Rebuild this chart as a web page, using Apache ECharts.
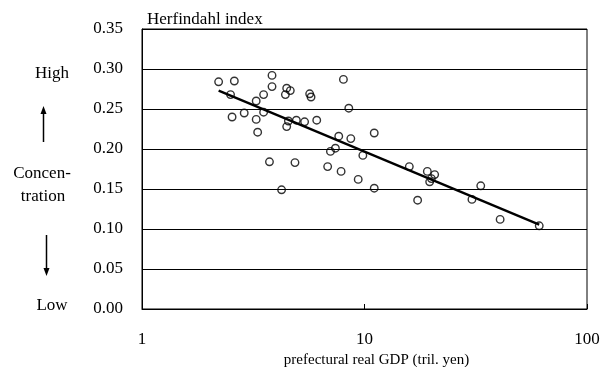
<!DOCTYPE html>
<html>
<head>
<meta charset="utf-8">
<script src="https://cdn.jsdelivr.net/npm/echarts@6/dist/echarts.min.js"></script>
<style>
  html, body { margin: 0; padding: 0; background: #fff; }
  #chart { width: 615px; height: 367px; }
</style>
</head>
<body>
<div id="chart"></div>
<script>
// prefectural real GDP (tril. yen)
var gdp = [2.21, 2.60, 3.84, 3.84, 4.47, 4.64, 4.41, 5.67, 5.75, 8.04,
  2.50, 3.52, 3.26, 8.50, 2.88, 2.54, 3.52, 3.26, 3.31, 4.55,
  4.47, 4.94, 5.38, 6.10, 7.66, 8.68, 7.40, 7.03, 9.83, 3.74,
  4.87, 6.83, 7.85, 9.37, 4.24, 11.06, 11.06, 15.9, 19.16, 20.67,
  19.98, 19.63, 17.33, 33.3, 30.4, 40.7, 61.0];
// Herfindahl index
var hhi = [0.284, 0.285, 0.292, 0.278, 0.276, 0.273, 0.268, 0.269, 0.265, 0.287,
  0.268, 0.268, 0.260, 0.251, 0.245, 0.240, 0.246, 0.237, 0.221, 0.235,
  0.228, 0.236, 0.234, 0.236, 0.216, 0.213, 0.201, 0.197, 0.192, 0.184,
  0.183, 0.178, 0.172, 0.162, 0.149, 0.220, 0.151, 0.178, 0.172, 0.168,
  0.163, 0.159, 0.136, 0.154, 0.137, 0.112, 0.104];
// trend line end points
var trendX = [2.21, 61.0];
var trendY = [0.273, 0.1055];

var serif = 'Liberation Serif';
var points = gdp.map(function (g, i) { return [g, hhi[i]]; });
var trend = trendX.map(function (t, i) { return [t, trendY[i]]; });

var chart = echarts.init(document.getElementById('chart'));
var option = {
  animation: false,
  backgroundColor: '#fff',
  grid: {
    left: 142,
    right: 28,
    top: 29,
    bottom: 58,
    outerBoundsMode: 'none',
    containLabel: false,
    show: true,
    borderColor: '#000',
    borderWidth: 1
  },
  xAxis: {
    type: 'log',
    logBase: 10,
    min: 1,
    max: 100,
    name: 'prefectural real GDP (tril. yen)',
    nameLocation: 'middle',
    nameGap: 42,
    nameTextStyle: {
      fontFamily: serif,
      fontSize: 15,
      color: '#000',
      padding: [0, 0, 0, 24]
    },
    axisLine: { show: true, lineStyle: { color: '#000', width: 1 } },
    axisTick: { show: true, inside: true, length: 5, lineStyle: { color: '#000' } },
    minorTick: { show: false },
    splitLine: { show: false },
    axisLabel: {
      margin: 22,
      fontFamily: serif,
      fontSize: 17,
      color: '#000'
    }
  },
  yAxis: {
    type: 'value',
    min: 0,
    max: 0.35,
    interval: 0.05,
    axisLine: { show: true, lineStyle: { color: '#000', width: 1 } },
    axisTick: { show: false },
    splitLine: { show: true, lineStyle: { color: '#000', width: 1 } },
    axisLabel: {
      margin: 19,
      fontFamily: serif,
      fontSize: 17,
      color: '#000',
      formatter: function (v) { return v.toFixed(2); }
    }
  },
  graphic: [
    { type: 'text', left: 147, top: 11, style: { text: 'Herfindahl index', font: '17px "Liberation Serif"', fill: '#000' } },
    { type: 'text', x: 52, y: 74, style: { text: 'High', font: '17px "Liberation Serif"', fill: '#000', align: 'center', verticalAlign: 'middle' } },
    { type: 'text', x: 42, y: 174, style: { text: 'Concen-', font: '17px "Liberation Serif"', fill: '#000', align: 'center', verticalAlign: 'middle' } },
    { type: 'text', x: 43, y: 197, style: { text: 'tration', font: '17px "Liberation Serif"', fill: '#000', align: 'center', verticalAlign: 'middle' } },
    { type: 'text', x: 52, y: 306, style: { text: 'Low', font: '17px "Liberation Serif"', fill: '#000', align: 'center', verticalAlign: 'middle' } },
    { type: 'line', shape: { x1: 43.5, y1: 112, x2: 43.5, y2: 142 }, style: { stroke: '#000', lineWidth: 1.5 } },
    { type: 'polygon', shape: { points: [[43.5, 106], [40.5, 114], [46.5, 114]] }, style: { fill: '#000' } },
    { type: 'line', shape: { x1: 46.5, y1: 235, x2: 46.5, y2: 270 }, style: { stroke: '#000', lineWidth: 1.5 } },
    { type: 'polygon', shape: { points: [[46.5, 276], [43.5, 268], [49.5, 268]] }, style: { fill: '#000' } }
  ],
  series: [
    {
      type: 'line',
      data: trend,
      symbol: 'none',
      lineStyle: { color: '#000', width: 2.3 },
      z: 2
    },
    {
      type: 'scatter',
      data: points,
      symbol: 'circle',
      symbolSize: 7.5,
      itemStyle: { color: 'rgba(255,255,255,0)', borderColor: '#000', borderWidth: 1.4 },
      z: 3
    }
  ]
};
chart.setOption(option);
</script>
</body>
</html>
